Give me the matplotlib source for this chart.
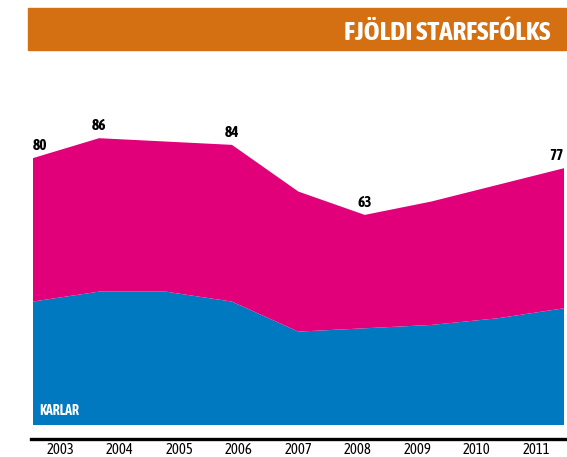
import numpy as np
import matplotlib.pyplot as plt
from matplotlib.patches import Rectangle

years = [2003, 2004, 2005, 2006, 2007, 2008, 2009, 2010, 2011]
total = [80, 86, 85, 84, 70, 63, 67, 72, 77]
karlar = [37, 40, 40, 37, 28, 29, 30, 32, 35]
konur = [t - k for t, k in zip(total, karlar)]
labelled = {2003: 80, 2004: 86, 2006: 84, 2008: 63, 2011: 77}

font = ["Asap Condensed", "DejaVu Sans"]

blue = "#0079C1"
magenta = "#E2007A"
orange = "#D46F12"

W, H = 567, 457
fig = plt.figure(figsize=(W / 100, H / 100), dpi=100)

# banner
fig.patches.append(Rectangle((28 / W, 1 - 50 / H), (566 - 28) / W, 42 / H,
                             transform=fig.transFigure, color=orange, zorder=0))
fig.text(550 / W, 1 - 30 / H, "FJÖLDI STARFSFÓLKS", ha="right", va="center_baseline",
         color="white", fontsize=19.5, fontweight="bold", family=font)

# area chart
ax = fig.add_axes([32.7 / W, 1 - 425 / H, (564 - 32.7) / W, 333.5 / H])
ax.stackplot(years, karlar, konur, colors=[blue, magenta], linewidth=0)
ax.set_xlim(years[0], years[-1])
ax.set_ylim(0, 100)
ax.axis("off")

for yr, v in labelled.items():
    ha = "center"
    if yr == years[0]:
        ha = "left"
    elif yr == years[-1]:
        ha = "right"
    ax.annotate(str(v), (yr, v), xytext=(0, 3.5), textcoords="offset points",
                ha=ha, va="bottom", fontsize=11, fontweight="bold", family=font)

ax.text(2003 + 0.1, 3, "KARLAR", color="white", fontsize=10, fontweight="bold",
        family=font, va="baseline")

# bottom axis with year labels
ax2 = fig.add_axes([30.7 / W, 1 - 438.5 / H, (566 - 30.7) / W, 0.01])
ax2.set_xlim(0, len(years))
ax2.set_ylim(0, 1)
for s in ["top", "left", "right"]:
    ax2.spines[s].set_visible(False)
ax2.spines["bottom"].set_linewidth(2.4)
ax2.spines["bottom"].set_color("black")
ax2.patch.set_alpha(0)
ax2.set_yticks([])
ax2.set_xticks(np.arange(len(years)) + 0.5)
ax2.set_xticklabels([str(y) for y in years], fontsize=10.5, family=font)
ax2.tick_params(axis="x", length=0, pad=3)
ax2.vlines(np.arange(1, len(years)), -0.3, 0.3, color="white", lw=0.4,
           transform=ax2.get_xaxis_transform(), clip_on=False)

fig.savefig("out.png", dpi=100)
